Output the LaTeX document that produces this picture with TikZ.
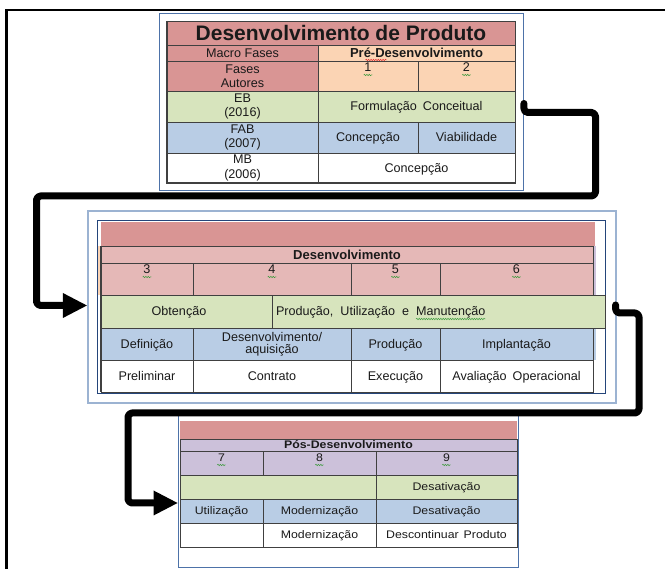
\documentclass[tikz,border=0pt]{standalone}
\usepackage{fontspec}
\setmainfont{Liberation Sans}
\newfontfamily\pthreefont[FakeStretch=1.12]{Liberation Sans}
\usetikzlibrary{arrows.meta,decorations.pathmorphing,calc}
\definecolor{redA}{HTML}{D99594}
\definecolor{pinkB}{HTML}{E5B8B7}
\definecolor{peach}{HTML}{FBD4B4}
\definecolor{greenC}{HTML}{D7E4BD}
\definecolor{blueC}{HTML}{B9CDE5}
\definecolor{lav}{HTML}{CCC1DA}
\definecolor{gridc}{HTML}{404040}
\definecolor{frameA}{HTML}{4D72A8}
\definecolor{frameL}{HTML}{9CB3D2}
\definecolor{frameD}{HTML}{24457A}
\definecolor{txtc}{HTML}{1A1A1A}
\definecolor{sqg}{HTML}{3C9A3C}
\definecolor{sqr}{HTML}{E03030}
\newcommand\regf{\fontsize{12.6}{14.5}\selectfont}
\newcommand\hdf{\fontsize{13}{15}\selectfont\bfseries}
\newcommand\titlef{\fontsize{21}{24}\selectfont\bfseries}
\newcommand\pthree{\pthreefont\fontsize{11}{13}\selectfont}
\newcommand\pthreeb{\pthreefont\fontsize{11}{13}\selectfont\bfseries}
\newcommand{\cel}[7]{\node[cellbox,#6,minimum width={(#4-#2)*1pt},minimum height={(#5-#3)*1pt}] (#1) at ({(#2+#4)/2},{(#3+#5)/2}) {#7};}
\newcommand{\numc}[8]{%
  \node[cellbox,fill=#6,minimum width={(#4-#2)*1pt},minimum height={(#5-#3)*1pt}] (#1) at ({(#2+#4)/2},{(#3+#5)/2}) {};
  \node[txt,font=#7,anchor=base] (#1t) at ({(#2+#4)/2},{#3+11}) {#8};
  \draw[squig] ($(#1t.base west)+(-0.8,3)$) -- ($(#1t.base east)+(0.8,3)$);}
\begin{document}
\begin{tikzpicture}[x=1pt,y=-1pt,
  cellbox/.style={draw=gridc, line width=0.8pt, inner sep=0pt, outer sep=0pt, align=center, text=txtc, font=\regf},
  one/.style={text height=9pt, text depth=0pt},
  onep/.style={text height=7.9pt, text depth=0pt, font=\pthree},
  txt/.style={inner sep=0pt, outer sep=0pt, text=txtc, font=\regf},
  squig/.style={decorate, decoration={snake,amplitude=0.7pt,segment length=2.4pt}, draw=sqg, line width=0.5pt},
  frameone/.style={draw=frameA, line width=0.9pt, inner sep=0pt},
  framelight/.style={draw=frameL, line width=1.2pt, inner sep=0pt},
  framedark/.style={draw=frameD, line width=0.8pt, inner sep=0pt},
  barbox/.style={fill=redA, draw=none, inner sep=0pt},
  conn/.style={line width=7pt, black, rounded corners=4pt, line cap=round, line join=round},
  outerln/.style={line width=2.7pt, black}]
\useasboundingbox (0,0) rectangle (665,569);
% outer frame lines
\draw[outerln] (670,10) -- (6.2,10) -- (6.2,575);

% ---------------- Panel 1 ----------------
\node[frameone, minimum width=364pt, minimum height=177pt] (panelA) at (341,101.5) {};
\cel{ptitle}{167}{21}{515}{45}{fill=redA,font=\titlef,text height=15pt,text depth=0pt}{Desenvolvimento de Produto}
\cel{pmacro}{167}{45}{318}{61}{fill=redA,one}{Macro Fases}
\cel{ppre}{318}{45}{515}{61}{fill=peach,font=\hdf,text height=9.3pt,text depth=0pt}{Pré-Desenvolvimento}
\draw[squig,draw=sqr] ($(ppre.center)+(-51,7)$) -- ($(ppre.center)+(-30,7)$);
\cel{pfases}{167}{61}{318}{91}{fill=redA}{Fases\\Autores}
\numc{n1}{318}{61}{418}{91}{peach}{\regf}{1}
\numc{n2}{418}{61}{515}{91}{peach}{\regf}{2}
\cel{peb}{167}{91}{318}{122}{fill=greenC}{EB\\(2016)}
\cel{pform}{318}{91}{515}{122}{fill=greenC,one}{Formulação\hspace{6pt}Conceitual}
\cel{pfab}{167}{122}{318}{153}{fill=blueC}{FAB\\(2007)}
\cel{pconc}{318}{122}{418}{153}{fill=blueC,one}{Concepção}
\cel{pviab}{418}{122}{515}{153}{fill=blueC,one}{Viabilidade}
\cel{pmb}{167}{153}{318}{183}{fill=white}{MB\\(2006)}
\cel{pconc2}{318}{153}{515}{183}{fill=white,one}{Concepção}
\draw[gridc, line width=1.4pt] (ptitle.north west) -- (pmb.south west) -- (pconc2.south east);

% ---------------- Panel 2 ----------------
\node[framelight, minimum width=528pt, minimum height=192pt] (panelB) at (352,307) {};
\node[framedark, minimum width=508pt, minimum height=173pt] (panelBin) at (351,306.5) {};
\node[barbox, minimum width=494pt, minimum height=24pt] (bar2) at (348,234) {};
\node[fill=peach, inner sep=0pt, minimum width=3.5pt, minimum height=49pt] (strip2l) at (99.5,270.5) {};
\node[fill=lav, inner sep=0pt, minimum width=3pt, minimum height=49pt] (strip2r) at (594.5,270.5) {};
\node[fill=blueC, inner sep=0pt, minimum width=3pt, minimum height=32pt] (strip2b) at (594.5,344) {};
\cel{d2}{101}{246}{593}{263}{fill=pinkB,font=\hdf,text height=9.3pt,text depth=0pt}{Desenvolvimento}
\numc{n3}{101}{263}{193}{295}{pinkB}{\regf}{3}
\numc{n4}{193}{263}{351}{295}{pinkB}{\regf}{4}
\numc{n5}{351}{263}{440}{295}{pinkB}{\regf}{5}
\numc{n6}{440}{263}{593}{295}{pinkB}{\regf}{6}
\cel{g2a}{101}{295}{272}{328}{fill=greenC}{}
\cel{g2b}{272}{295}{605}{328}{fill=greenC}{}
\node[txt, one] (obt) at (179,311.5) {Obtenção};
\node[txt, anchor=base west] (pum) at (276,316) {Produção,\hspace{7pt}Utilização\hspace{7pt}e};
\node[txt, anchor=base west] (man) at ($(pum.base east)+(7,0)$) {Manutenção};
\draw[squig] ($(man.base west)+(0,3)$) -- ($(man.base east)+(0,3)$);
\cel{b2a}{101}{328}{193}{360}{fill=blueC,one}{Definição}
\cel{b2b}{193}{328}{351}{360}{fill=blueC,font=\fontsize{12.6}{12}\selectfont}{Desenvolvimento/\\aquisição}
\cel{b2c}{351}{328}{440}{360}{fill=blueC,one}{Produção}
\cel{b2d}{440}{328}{593}{360}{fill=blueC,one}{Implantação}
\cel{w2a}{101}{360}{193}{392}{fill=white,one}{Preliminar}
\cel{w2b}{193}{360}{351}{392}{fill=white,one}{Contrato}
\cel{w2c}{351}{360}{440}{392}{fill=white,one}{Execução}
\cel{w2d}{440}{360}{593}{392}{fill=white,one}{Avaliação\hspace{6pt}Operacional}
\draw[gridc, line width=1.2pt] (d2.north west) -- (w2a.south west);

% ---------------- Panel 3 ----------------
\node[frameone, minimum width=340pt, minimum height=154pt] (panelC) at (348,490) {};
\node[barbox, minimum width=337pt, minimum height=18pt] (bar3) at (348.5,430) {};
\cel{d3}{180}{439}{517}{451}{fill=lav,font=\pthreeb,text height=7.9pt,text depth=0pt}{Pós-Desenvolvimento}
\numc{n7}{180}{451}{263}{475}{lav}{\pthree}{7}
\numc{n8}{263}{451}{376}{475}{lav}{\pthree}{8}
\numc{n9}{376}{451}{517}{475}{lav}{\pthree}{9}
\cel{g3a}{180}{475}{376}{499}{fill=greenC}{}
\cel{g3b}{376}{475}{517}{499}{fill=greenC,onep}{Desativação}
\cel{b3a}{180}{499}{263}{523}{fill=blueC,onep}{Utilização}
\cel{b3b}{263}{499}{376}{523}{fill=blueC,onep}{Modernização}
\cel{b3c}{376}{499}{517}{523}{fill=blueC,onep}{Desativação}
\cel{w3a}{180}{523}{263}{547}{fill=white,onep}{}
\cel{w3b}{263}{523}{376}{547}{fill=white,onep}{Modernização}
\cel{w3c}{376}{523}{517}{547}{fill=white,onep}{Descontinuar\hspace{5pt}Produto}

% ---------------- Connectors ----------------
\coordinate (c1s) at ($(panelA.east)+(0.5,2)$);
\coordinate (c1e) at ($(panelB.west)+(-0.5,-1.5)$);
\draw[conn, -{Triangle[length=24pt,width=25pt,line width=0pt]}]
  (c1s) -- ++(0,9) -- (595.5,112.5) -- (595.5,196) -- (36.5,196) -- (36.5,305.5) -- (c1e);
\coordinate (c2s) at ($(panelB.east)+(-1,-2)$);
\coordinate (c2e) at (panelC.west |- 0,503);
\draw[conn, -{Triangle[length=24pt,width=25pt,line width=0pt]}]
  (c2s) -- ++(0,8) -- (639,313) -- (639,413) -- (128,413) -- (128,503) -- (c2e);
\end{tikzpicture}
\end{document}
